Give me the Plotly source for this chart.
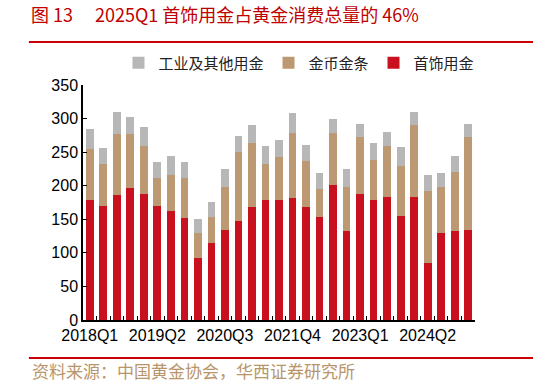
import plotly.graph_objects as go

quarters = [f"{y}Q{q}" for y in range(2018, 2025) for q in range(1, 5)] + ["2025Q1"]
label_quarters = ["2018Q1", "2019Q2", "2020Q3", "2021Q4", "2023Q1", "2024Q2"]

jewelry = [179, 170, 185.5, 197, 187.5, 170, 163, 152, 92, 114, 134.5, 147, 168, 179, 179,
           181, 168, 153, 201, 132.5, 188, 179, 183.5, 155, 183.5, 85, 130, 132, 134.5]
bar_coin = [75, 62.5, 91, 80, 72, 42, 53, 60, 38, 40, 64, 103, 95, 53, 64,
            98, 69, 42, 77, 66, 84, 59.5, 76, 75, 106.5, 107, 68.5, 89, 138]
industrial = [31, 24, 33, 26, 28, 24, 29, 24, 20, 22, 27, 24, 27, 27, 25,
              29, 24, 24, 22, 27, 20, 25, 21, 27, 20, 24, 20, 24, 20]

names = ["首饰用金", "金币金条", "工业及其他用金"]
colors = ["#c8101f", "#bc9873", "#b7b7b7"]

fig = go.Figure()
for name, vals, col in zip(names, [jewelry, bar_coin, industrial], colors):
    fig.add_trace(go.Bar(x=quarters, y=vals, name=name, marker=dict(color=col, line=dict(width=0))))

cjk = "Noto Sans CJK SC"
fig.update_layout(
    width=533, height=384,
    margin=dict(l=83, r=58, t=85, b=64),
    barmode="stack", bargap=0.43,
    plot_bgcolor="white", paper_bgcolor="white",
    font=dict(family="Liberation Sans, Arial", size=16, color="black"),
    title=dict(text="图 13　 2025Q1 首饰用金占黄金消费总量的 46%", xref="container", yref="container",
               x=0.058, y=0.958, xanchor="left", yanchor="middle",
               font=dict(family=cjk, size=18, color="#c00000")),
    legend=dict(orientation="h", x=0.551, xanchor="center", y=1.094, yanchor="middle",
                traceorder="reversed", font=dict(family=cjk, size=15, color="#222"),
                itemwidth=30, bgcolor="rgba(0,0,0,0)"),
    xaxis=dict(type="category", tickmode="array", tickvals=quarters,
               ticktext=[q if q in label_quarters else "" for q in quarters],
               tickson="boundaries", ticks="inside", ticklen=4, tickcolor="black",
               showline=True, linecolor="black", linewidth=1.5, showgrid=False,
               tickangle=0, tickfont=dict(size=16)),
    yaxis=dict(range=[0, 350], dtick=50, ticks="inside", ticklen=4, tickcolor="black",
               showline=True, linecolor="black", linewidth=1.5, showgrid=False,
               zeroline=False, tickfont=dict(size=16)),
    showlegend=True,
)

fig.add_annotation(text="资料来源：中国黄金协会，华西证券研究所", xref="paper", yref="paper",
                   x=-0.135, y=-0.213, xanchor="left", yanchor="middle", showarrow=False,
                   font=dict(family=cjk, size=17, color="#b8956a"))
fig.add_shape(type="line", xref="paper", yref="paper", x0=-0.138, x1=1.148, y0=1.183, y1=1.183,
              line=dict(color="#cc0000", width=2))
fig.add_shape(type="line", xref="paper", yref="paper", x0=-0.138, x1=1.148, y0=-0.162, y1=-0.162,
              line=dict(color="#cc0000", width=2))

fig.write_html("out.html", config={"displayModeBar": False},
               post_script="document.body.style.margin='0';")
